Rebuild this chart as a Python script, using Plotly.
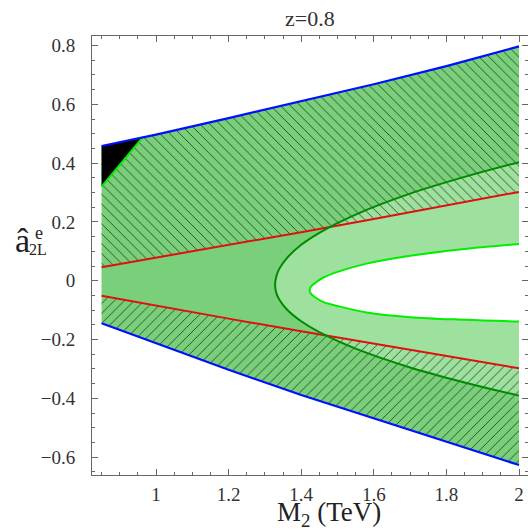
import plotly.graph_objects as go

# ---------------- data ----------------
x_lines = [0.85, 1.0, 1.2, 1.4, 1.6, 1.8, 2.0]
blue_upper = [0.458, 0.497, 0.553, 0.610, 0.668, 0.730, 0.797]
blue_lower = [-0.145, -0.213, -0.303, -0.389, -0.469, -0.548, -0.627]
red_upper = [0.046, 0.078, 0.120, 0.165, 0.210, 0.256, 0.302]
red_lower = [-0.051, -0.085, -0.129, -0.172, -0.214, -0.256, -0.298]

dark_x = [2.0, 1.85, 1.70, 1.55, 1.45, 1.40, 1.36, 1.34, 1.332, 1.328,
          1.332, 1.34, 1.36, 1.40, 1.45, 1.55, 1.70, 1.85, 2.0]
dark_y = [0.403, 0.353, 0.296, 0.225, 0.163, 0.122, 0.076, 0.041, 0.017, -0.015,
          -0.044, -0.065, -0.097, -0.138, -0.175, -0.231, -0.295, -0.346, -0.391]

bright_x = [2.0, 1.85, 1.70, 1.58, 1.50, 1.46, 1.44, 1.427, 1.423,
            1.427, 1.44, 1.46, 1.50, 1.58, 1.70, 1.85, 2.0]
bright_y = [0.125, 0.108, 0.085, 0.058, 0.030, 0.010, -0.006, -0.020, -0.032,
            -0.045, -0.058, -0.072, -0.086, -0.108, -0.124, -0.133, -0.139]

black_x = [0.85, 0.965, 0.85]
black_y = [0.458, 0.490, 0.320]

x_tickvals = [1.0, 1.2, 1.4, 1.6, 1.8, 2.0]
x_ticktext = ["1", "1.2", "1.4", "1.6", "1.8", "2"]
y_tickvals = [-0.6, -0.4, -0.2, 0.0, 0.2, 0.4, 0.6, 0.8]
y_ticktext = ["\u22120.6", "\u22120.4", "\u22120.2", "0", "0.2", "0.4", "0.6", "0.8"]

title_text = "z=0.8"

# ---------------- styling ----------------
MED_GREEN = "rgb(122,207,122)"
LIGHT_GREEN = "rgb(158,224,158)"
SERIF = "Liberation Serif"

fig = go.Figure()

# medium green between the blue lines
fig.add_trace(go.Scatter(
    x=x_lines + x_lines[::-1], y=blue_upper + blue_lower[::-1],
    fill="toself", fillcolor=MED_GREEN, mode="lines", line=dict(width=0),
    hoverinfo="skip", showlegend=False))

# light green band inside the dark green curve
fig.add_trace(go.Scatter(
    x=dark_x, y=dark_y, fill="toself", fillcolor=LIGHT_GREEN, mode="lines",
    line=dict(width=0, shape="spline"), hoverinfo="skip", showlegend=False))

# white interior of the bright green curve
fig.add_trace(go.Scatter(
    x=bright_x, y=bright_y, fill="toself", fillcolor="white", mode="lines",
    line=dict(width=0, shape="spline"), hoverinfo="skip", showlegend=False))

# hatched regions
HATCH = "rgba(15,35,15,0.72)"
fig.add_trace(go.Scatter(
    x=x_lines + x_lines[::-1], y=blue_upper + red_upper[::-1],
    fill="toself", fillcolor="rgba(0,0,0,0)", mode="lines", line=dict(width=0),
    fillpattern=dict(shape="\\", fgcolor=HATCH, bgcolor="rgba(0,0,0,0)",
                     size=7, solidity=0.14, fillmode="replace"),
    hoverinfo="skip", showlegend=False))
fig.add_trace(go.Scatter(
    x=x_lines + x_lines[::-1], y=red_lower + blue_lower[::-1],
    fill="toself", fillcolor="rgba(0,0,0,0)", mode="lines", line=dict(width=0),
    fillpattern=dict(shape="/", fgcolor=HATCH, bgcolor="rgba(0,0,0,0)",
                     size=7, solidity=0.14, fillmode="replace"),
    hoverinfo="skip", showlegend=False))

# black triangle
fig.add_trace(go.Scatter(
    x=black_x, y=black_y, fill="toself", fillcolor="black", mode="lines",
    line=dict(width=0), hoverinfo="skip", showlegend=False))

# boundary lines
fig.add_trace(go.Scatter(x=x_lines, y=red_upper, mode="lines",
                         line=dict(color="#e01010", width=2), hoverinfo="skip", showlegend=False))
fig.add_trace(go.Scatter(x=x_lines, y=red_lower, mode="lines",
                         line=dict(color="#e01010", width=2), hoverinfo="skip", showlegend=False))
fig.add_trace(go.Scatter(x=dark_x, y=dark_y, mode="lines",
                         line=dict(color="#008a00", width=2, shape="spline"), hoverinfo="skip", showlegend=False))
fig.add_trace(go.Scatter(x=bright_x, y=bright_y, mode="lines",
                         line=dict(color="#00ee00", width=2, shape="spline"), hoverinfo="skip", showlegend=False))
fig.add_trace(go.Scatter(x=black_x[1:], y=black_y[1:], mode="lines",
                         line=dict(color="#00ee00", width=2), hoverinfo="skip", showlegend=False))
fig.add_trace(go.Scatter(x=x_lines, y=blue_upper, mode="lines",
                         line=dict(color="#0010ff", width=2.2), hoverinfo="skip", showlegend=False))
fig.add_trace(go.Scatter(x=x_lines, y=blue_lower, mode="lines",
                         line=dict(color="#0010ff", width=2.2), hoverinfo="skip", showlegend=False))

AXCOL = "#666666"
common = dict(showgrid=False, zeroline=False, showline=True, linecolor=AXCOL, linewidth=1,
              mirror="ticks", ticks="inside", ticklen=6, tickcolor=AXCOL, tickwidth=1,
              automargin=False,
              tickfont=dict(family=SERIF, size=19, color="#333333"))

fig.update_xaxes(range=[0.8237, 2.0248], tickmode="array", tickvals=x_tickvals,
                 ticktext=x_ticktext, ticklabelstandoff=2,
                 minor=dict(ticks="inside", ticklen=3, dtick=0.05, tick0=0,
                            tickcolor=AXCOL, showgrid=False),
                 **common)
fig.update_yaxes(range=[-0.6609, 0.8323], tickmode="array", tickvals=y_tickvals,
                 ticktext=y_ticktext, ticklabelstandoff=12,
                 minor=dict(ticks="inside", ticklen=3, dtick=0.05, tick0=0,
                            tickcolor=AXCOL, showgrid=False),
                 **common)

def px_x(p):
    return (p - 92) / 436.0

def px_y(p):
    return (475 - p) / 439.0

annotations = [
    dict(text=title_text, x=px_x(309.5), y=px_y(18.6), font=dict(family=SERIF, size=22, color="#333333")),
    dict(text="M<sub>2</sub> (TeV)", x=px_x(329), y=px_y(513.5), font=dict(family=SERIF, size=27, color="#222222")),
    dict(text="\u00e2", x=px_x(22), y=px_y(240), font=dict(family=SERIF, size=34, color="#222222")),
    dict(text="e", x=px_x(39), y=px_y(233), font=dict(family=SERIF, size=18, color="#222222")),
    dict(text="2L", x=px_x(38), y=px_y(250), font=dict(family=SERIF, size=16, color="#222222")),
]
for a in annotations:
    a.update(xref="paper", yref="paper", xanchor="center", yanchor="middle", showarrow=False)

fig.update_layout(
    width=528, height=530,
    margin=dict(l=92, r=0, t=36, b=55),
    plot_bgcolor="white", paper_bgcolor="white",
    font=dict(family=SERIF, color="#222222"),
    annotations=annotations,
    showlegend=False,
)

fig.write_html("out.html", config={"displayModeBar": False},
               post_script="document.body.style.margin='0';document.body.style.overflow='hidden';")
